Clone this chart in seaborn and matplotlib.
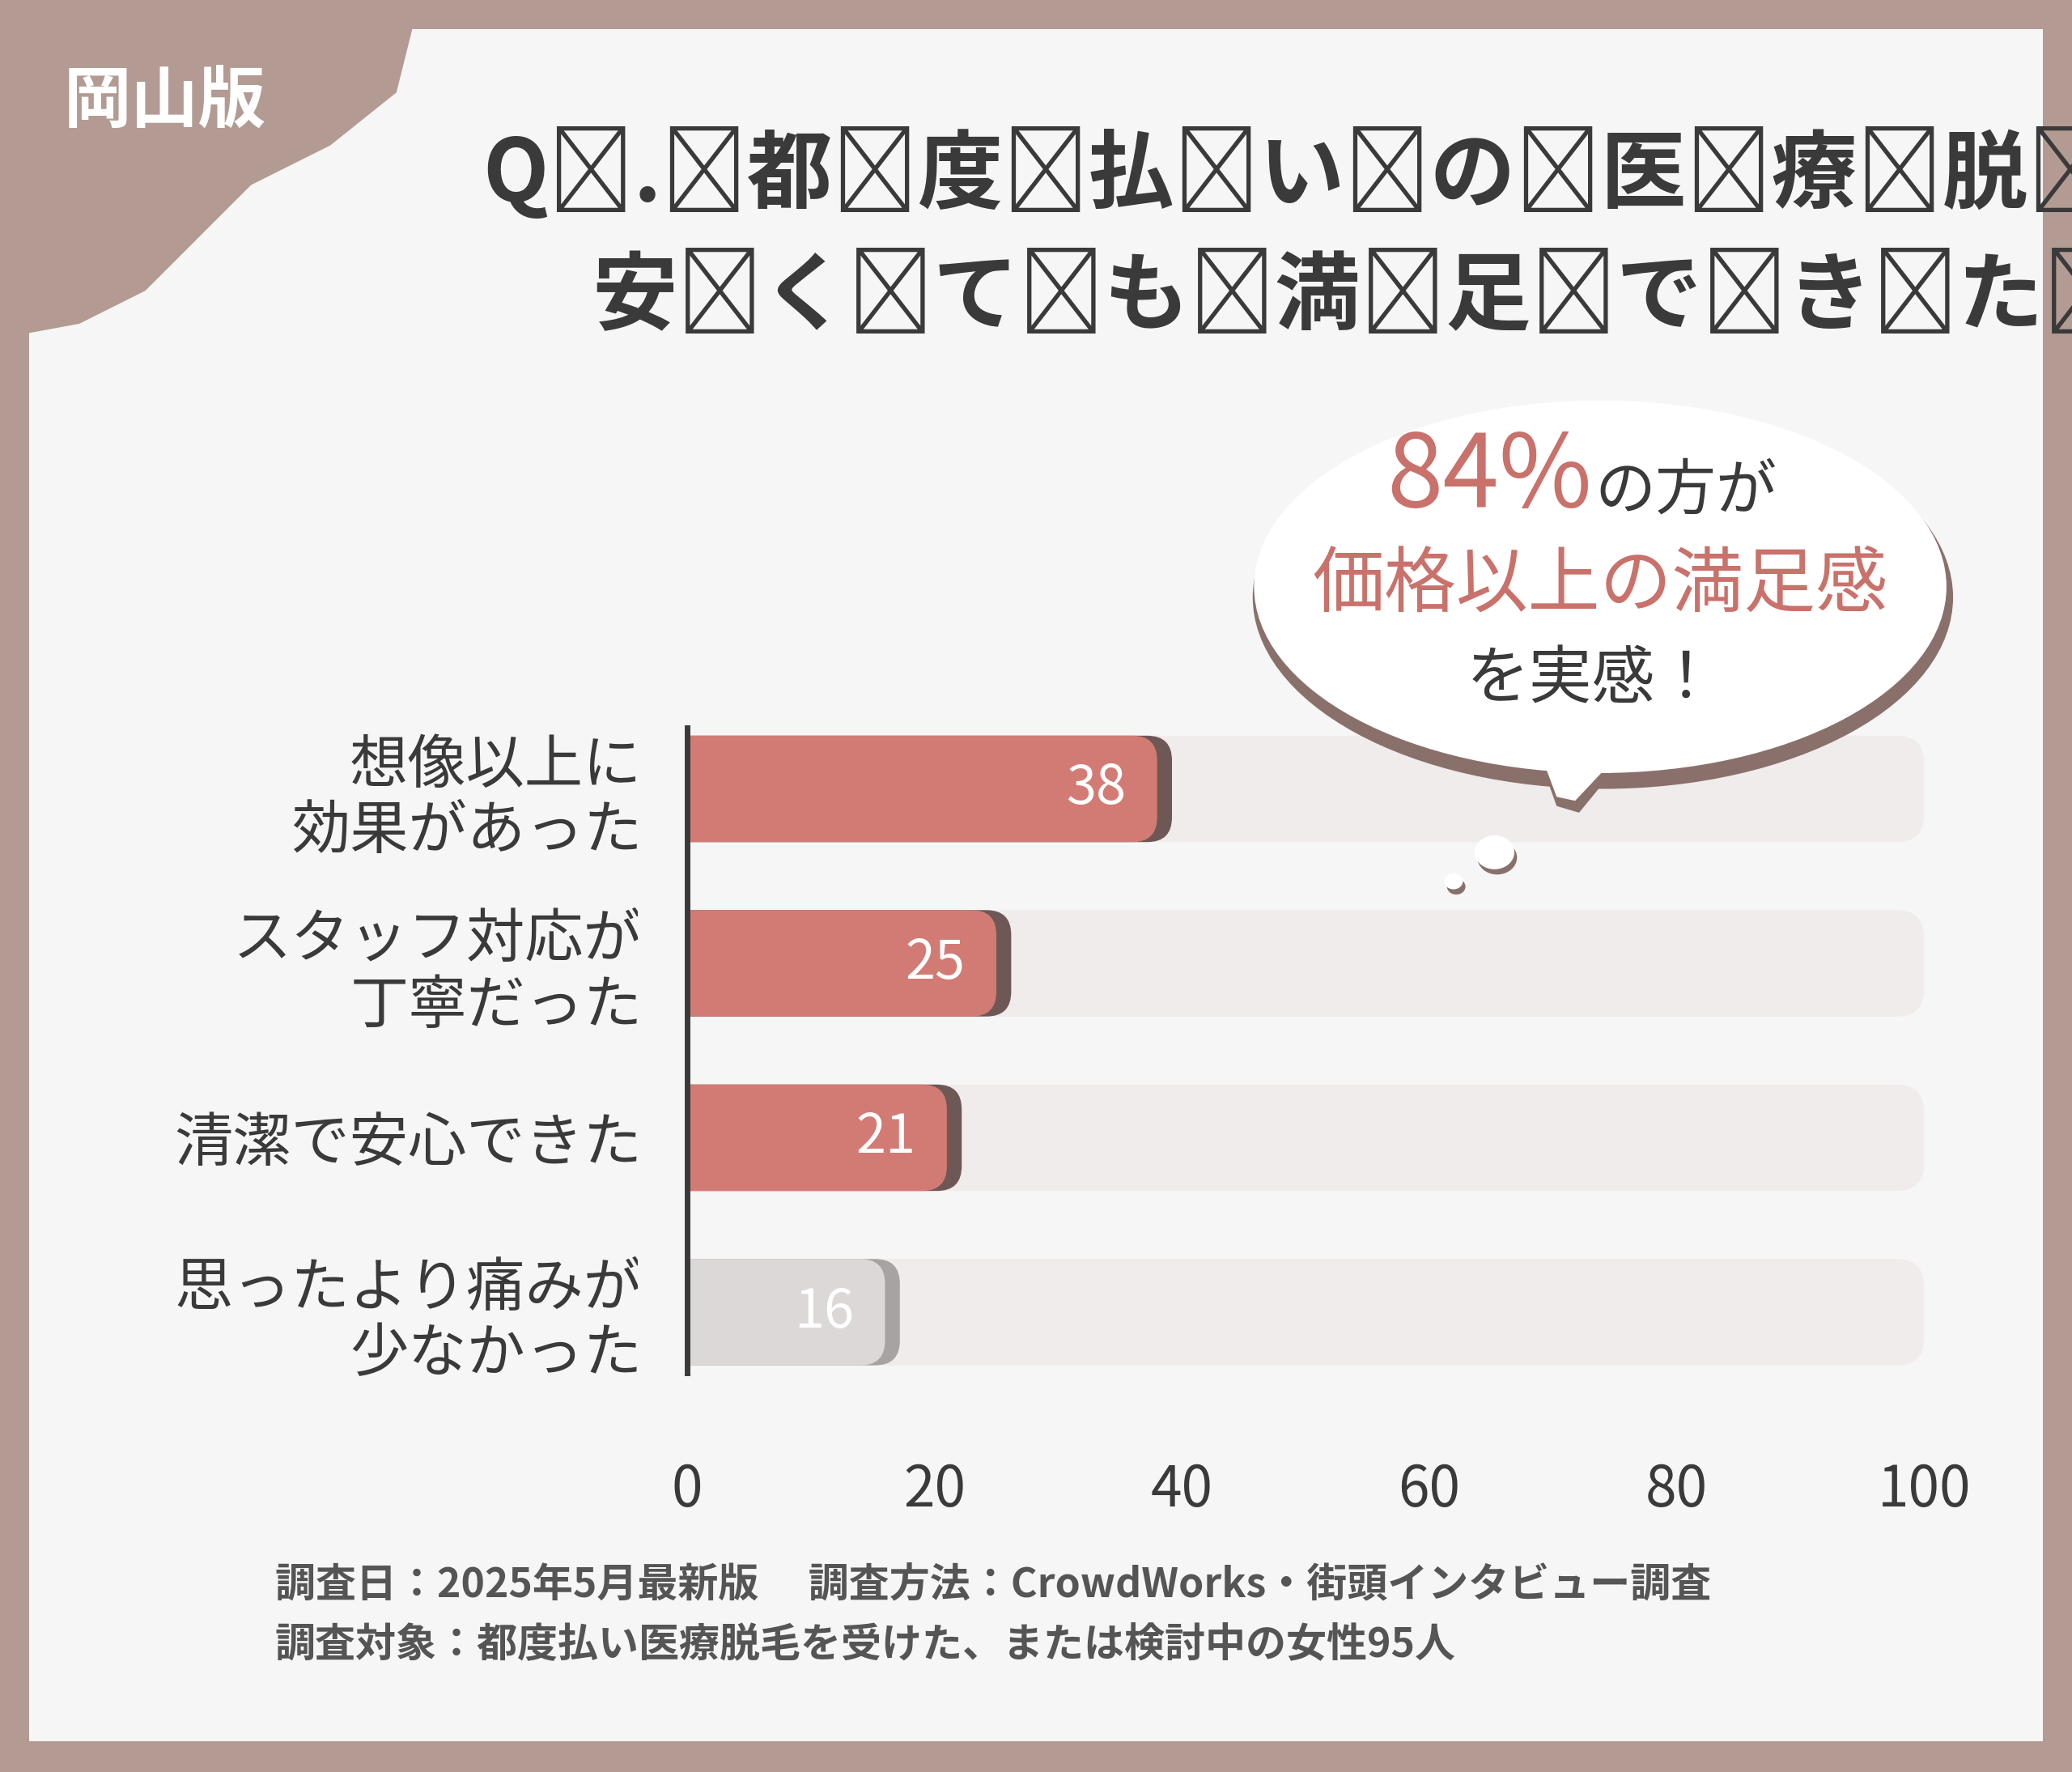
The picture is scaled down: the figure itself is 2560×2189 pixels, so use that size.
import matplotlib
matplotlib.use("Agg")
import matplotlib.pyplot as plt
import seaborn as sns
import pandas as pd
from matplotlib.patches import FancyBboxPatch, Ellipse, Circle, Polygon

plt.rcParams["font.family"] = "Noto Sans CJK JP"

categories = ["想像以上に\n効果があった", "スタッフ対応が\n丁寧だった", "清潔で安心できた", "思ったより痛みが\n少なかった"]
values = [38, 25, 21, 16]
track = [100, 100, 100, 100]
xticks = [0, 20, 40, 60, 80, 100]
bar_colors = ["#d27b74", "#d27b74", "#d27b74", "#dcd8d8"]
shadow_colors = ["#6e5856", "#6e5856", "#6e5856", "#a8a3a3"]

df = pd.DataFrame({"cat": categories, "val": values, "track": track})

W, H = 1568, 1341
fig = plt.figure(figsize=(25.6, 21.89), dpi=100)
fig.patch.set_facecolor("#b39b93")
fig.patches.append(plt.Rectangle((22/W, 1-1318/H), (1546-22)/W, (1318-22)/H,
                                 transform=fig.transFigure, facecolor="#f7f6f6", edgecolor="none", zorder=-5))
blob = Polygon([(22/W, 1-22/H), (312/W, 1-22/H), (300/W, 1-70/H), (250/W, 1-110/H), (190/W, 1-140/H),
                (150/W, 1-180/H), (110/W, 1-220/H), (60/W, 1-245/H), (22/W, 1-252/H)],
               closed=True, transform=fig.transFigure, facecolor="#b39b93", edgecolor="none", zorder=-4)
fig.patches.append(blob)
fig.text(125/W, 1-78/H, "岡山版", fontsize=60, color="white", fontweight="bold", ha="center", va="center")

sp = "\u2009"
fig.text(365/W, 1-132/H, sp.join("Q.都度払いの医療脱毛で、"), fontsize=76, color="#3a3a3a", fontweight="bold",
         ha="left", va="center")
fig.text(448/W, 1-225/H, sp.join("安くても満足できた理由は？"), fontsize=76, color="#3a3a3a", fontweight="bold",
         ha="left", va="center")

ax = fig.add_axes([520/W, 1-1059/H, (1456-520)/W, (1059-531)/H])
ax.set_zorder(2)
ax.set_facecolor("none")
sns.barplot(data=df, x="track", y="cat", ax=ax, color="#f0eceb", width=0.61, orient="h")
sns.barplot(data=df, x="val", y="cat", ax=ax, color="#d27b74", width=0.61, orient="h")
ax.set_xlim(0, 100)
ax.set_ylim(3.5, -0.5)

n = len(categories)
asp = 0.071
patches = list(ax.patches)
for i, p in enumerate(patches):
    x, y, w, h = p.get_x(), p.get_y(), p.get_width(), p.get_height()
    p.set_visible(False)
    if i < n:
        fb = FancyBboxPatch((x - 3, y), w + 3, h, boxstyle="round,pad=0,rounding_size=2.2",
                            mutation_aspect=asp, facecolor="#f0eceb", edgecolor="none", zorder=1, clip_on=False)
        ax.add_patch(fb)
    else:
        k = i - n
        sh = FancyBboxPatch((x - 3, y), w + 4.2, h, boxstyle="round,pad=0,rounding_size=2",
                            mutation_aspect=asp, facecolor=shadow_colors[k], edgecolor="none", zorder=2, clip_on=False)
        ax.add_patch(sh)
        fb = FancyBboxPatch((x - 3, y), w + 3, h, boxstyle="round,pad=0,rounding_size=2",
                            mutation_aspect=asp, facecolor=bar_colors[k], edgecolor="none", zorder=3, clip_on=False)
        ax.add_patch(fb)
        ax.text(w - 2.5, k, str(values[k]), ha="right", va="center", fontsize=48,
                color="white", zorder=4)
ax.add_patch(plt.Rectangle((-4, -0.5), 4, 4, facecolor="#f7f6f6", edgecolor="none", zorder=4, clip_on=False))

for s in ["top", "right", "bottom"]:
    ax.spines[s].set_visible(False)
ax.spines["left"].set_linewidth(5)
ax.spines["left"].set_color("#3a3a3a")
ax.spines["left"].set_bounds(-0.35, 3.35)
ax.spines["left"].set_zorder(5)
ax.set_xticks(xticks)
ax.set_xticklabels([str(t) for t in xticks], fontsize=50, color="#3a3a3a")
ax.tick_params(axis="x", length=0, pad=55)
ax.tick_params(axis="y", length=0, pad=40, labelsize=52, labelcolor="#3a3a3a")
for lab in ax.get_yticklabels():
    lab.set_multialignment("right")
    lab.set_linespacing(1.15)
ax.set_xlabel("")
ax.set_ylabel("")

bub_sh = Ellipse((1213/W, 1-452/H), 530/W, 290/H, transform=fig.transFigure,
                 facecolor="#8a706b", edgecolor="none", zorder=6)
bub = Ellipse((1211/W, 1-444/H), 524/W, 282/H, transform=fig.transFigure,
              facecolor="white", edgecolor="none", zorder=7)
tail_sh = Polygon([(1160/W, 1-560/H), (1240/W, 1-560/H), (1195/W, 1-615/H), (1178/W, 1-610/H)],
                  closed=True, transform=fig.transFigure, facecolor="#8a706b", zorder=6)
tail = Polygon([(1160/W, 1-555/H), (1240/W, 1-555/H), (1192/W, 1-606/H), (1178/W, 1-603/H)],
               closed=True, transform=fig.transFigure, facecolor="white", zorder=7)
for pch in [bub_sh, tail_sh, bub, tail]:
    fig.patches.append(pch)
for (cx, cy, r) in [(1131, 645, 15), (1100, 667, 7)]:
    fig.patches.append(Circle(((cx+2)/W, 1-(cy+4)/H), r/W, transform=fig.transFigure, facecolor="#8a706b", zorder=6))
    fig.patches.append(Circle((cx/W, 1-cy/H), r/W, transform=fig.transFigure, facecolor="white", zorder=7))

fig.text(1205/W, 1-362/H, "84%", fontsize=90, color="#c9716b", ha="right", va="center", zorder=8)
fig.text(1207/W, 1-372/H, "の方が", fontsize=54, color="#3a3a3a", ha="left", va="center", zorder=8)
fig.text(1211/W, 1-443/H, "価格以上の満足感", fontsize=64, color="#c9716b", ha="center", va="center", zorder=8)
fig.text(1205/W, 1-515/H, "を実感！", fontsize=56, color="#3a3a3a", ha="center", va="center", zorder=8)

fig.text(208/W, 1-1200/H, "調査日：2025年5月最新版　 調査方法：CrowdWorks・街頭インタビュー調査",
         fontsize=36, color="#555555", fontweight="bold", ha="left", va="center")
fig.text(208/W, 1-1245/H, "調査対象：都度払い医療脱毛を受けた、または検討中の女性95人",
         fontsize=36, color="#555555", fontweight="bold", ha="left", va="center")

fig.savefig("out.png", dpi=100, facecolor=fig.get_facecolor())
